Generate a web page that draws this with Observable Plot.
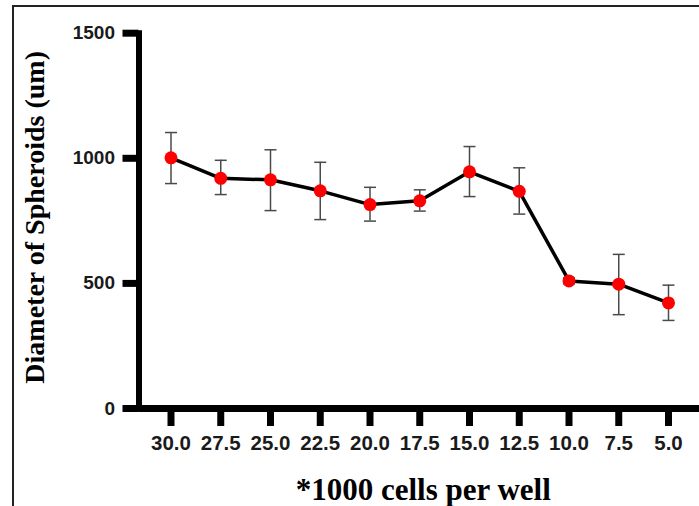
<!DOCTYPE html>
<html>
<head>
<meta charset="utf-8">
<script src="https://cdn.jsdelivr.net/npm/d3@7"></script>
<script src="https://cdn.jsdelivr.net/npm/@observablehq/plot@0.6"></script>
<style>
  html, body { margin: 0; padding: 0; background: #fff; overflow: hidden; }
  #wrap { position: relative; width: 699px; height: 506px; }
  #border { position: absolute; left: 12px; top: 5px; right: -10px; bottom: -10px; border-left: 2px solid #222; border-top: 2px solid #222; pointer-events: none; }
</style>
</head>
<body>
<div id="wrap"><div id="border"></div></div>
<script>
const cellsPerWell = [30, 27.5, 25, 22.5, 20, 17.5, 15, 12.5, 10, 7.5, 5];
const meanDiameter = [1002, 920, 914, 870, 815, 830, 946, 868, 510, 497, 422];
const upperError   = [1103, 992, 1034, 984, 884, 874, 1047, 962, 522, 616, 493];
const lowerError   = [899, 855, 791, 755, 749, 789, 847, 777, 498, 375, 352];
const yTicks = [0, 500, 1000, 1500];
const xTitle = "*1000 cells per well";
const yTitle = "Diameter of Spheroids (um)";

const data = cellsPerWell.map((c, i) => ({c, mean: meanDiameter[i], hi: upperError[i], lo: lowerError[i]}));

const capSymbol = {
  draw(ctx, size) {
    const w = Math.sqrt(size / Math.PI);
    ctx.moveTo(-w, 0);
    ctx.lineTo(w, 0);
  }
};

const sans = "'Liberation Sans', Arial, sans-serif";
const serif = "'Liberation Serif', 'Times New Roman', serif";

const chart = Plot.plot({
  width: 699,
  height: 506,
  marginLeft: 138.5,
  marginRight: 0,
  marginTop: 32.7,
  marginBottom: 98,
  style: {background: "transparent", color: "#1a1a1a", overflow: "visible"},
  x: {type: "linear", domain: [30, 5], range: [170.5, 668]},
  y: {domain: [0, 1500]},
  marks: [
    Plot.ruleY([0], {stroke: "#000", strokeWidth: 7}),
    Plot.frame({anchor: "left", stroke: "#000", strokeWidth: 6, strokeLinecap: "square"}),
    Plot.axisY({ticks: yTicks, tickSize: 16, tickPadding: 8, strokeWidth: 7, stroke: "#000",
      tickFormat: d => String(d), fontSize: 19, fontWeight: "bold", fontFamily: sans, fill: "#1a1a1a", label: null}),
    Plot.axisX({ticks: cellsPerWell, tickSize: 18, tickPadding: 9, strokeWidth: 7, stroke: "#000",
      tickFormat: d => d.toFixed(1), fontSize: 20.5, fontWeight: "bold", fontFamily: sans, fill: "#1a1a1a", label: null}),
    Plot.ruleX(data, {x: "c", y1: "lo", y2: "hi", stroke: "#4a4a4a", strokeWidth: 1.5}),
    Plot.dot(data, {x: "c", y: "hi", symbol: capSymbol, r: 6, stroke: "#4a4a4a", strokeWidth: 1.5}),
    Plot.dot(data, {x: "c", y: "lo", symbol: capSymbol, r: 6, stroke: "#4a4a4a", strokeWidth: 1.5}),
    Plot.line(data, {x: "c", y: "mean", stroke: "#000", strokeWidth: 3.5}),
    Plot.dot(data, {x: "c", y: "mean", r: 6.5, fill: "#ff0000", stroke: "none"}),
    Plot.text([xTitle], {frameAnchor: "bottom", text: d => d, dx: 4, dy: 91, lineAnchor: "bottom", textAnchor: "middle",
      fontSize: 31, fontWeight: "bold", fontFamily: serif, fill: "#000"}),
    Plot.text([yTitle], {frameAnchor: "left", text: d => d, rotate: -90, dx: -95.5, dy: -3.5, lineAnchor: "bottom", textAnchor: "middle",
      fontSize: 28, fontWeight: "bold", fontFamily: serif, fill: "#000"})
  ]
});
document.getElementById("wrap").prepend(chart);
</script>
</body>
</html>
